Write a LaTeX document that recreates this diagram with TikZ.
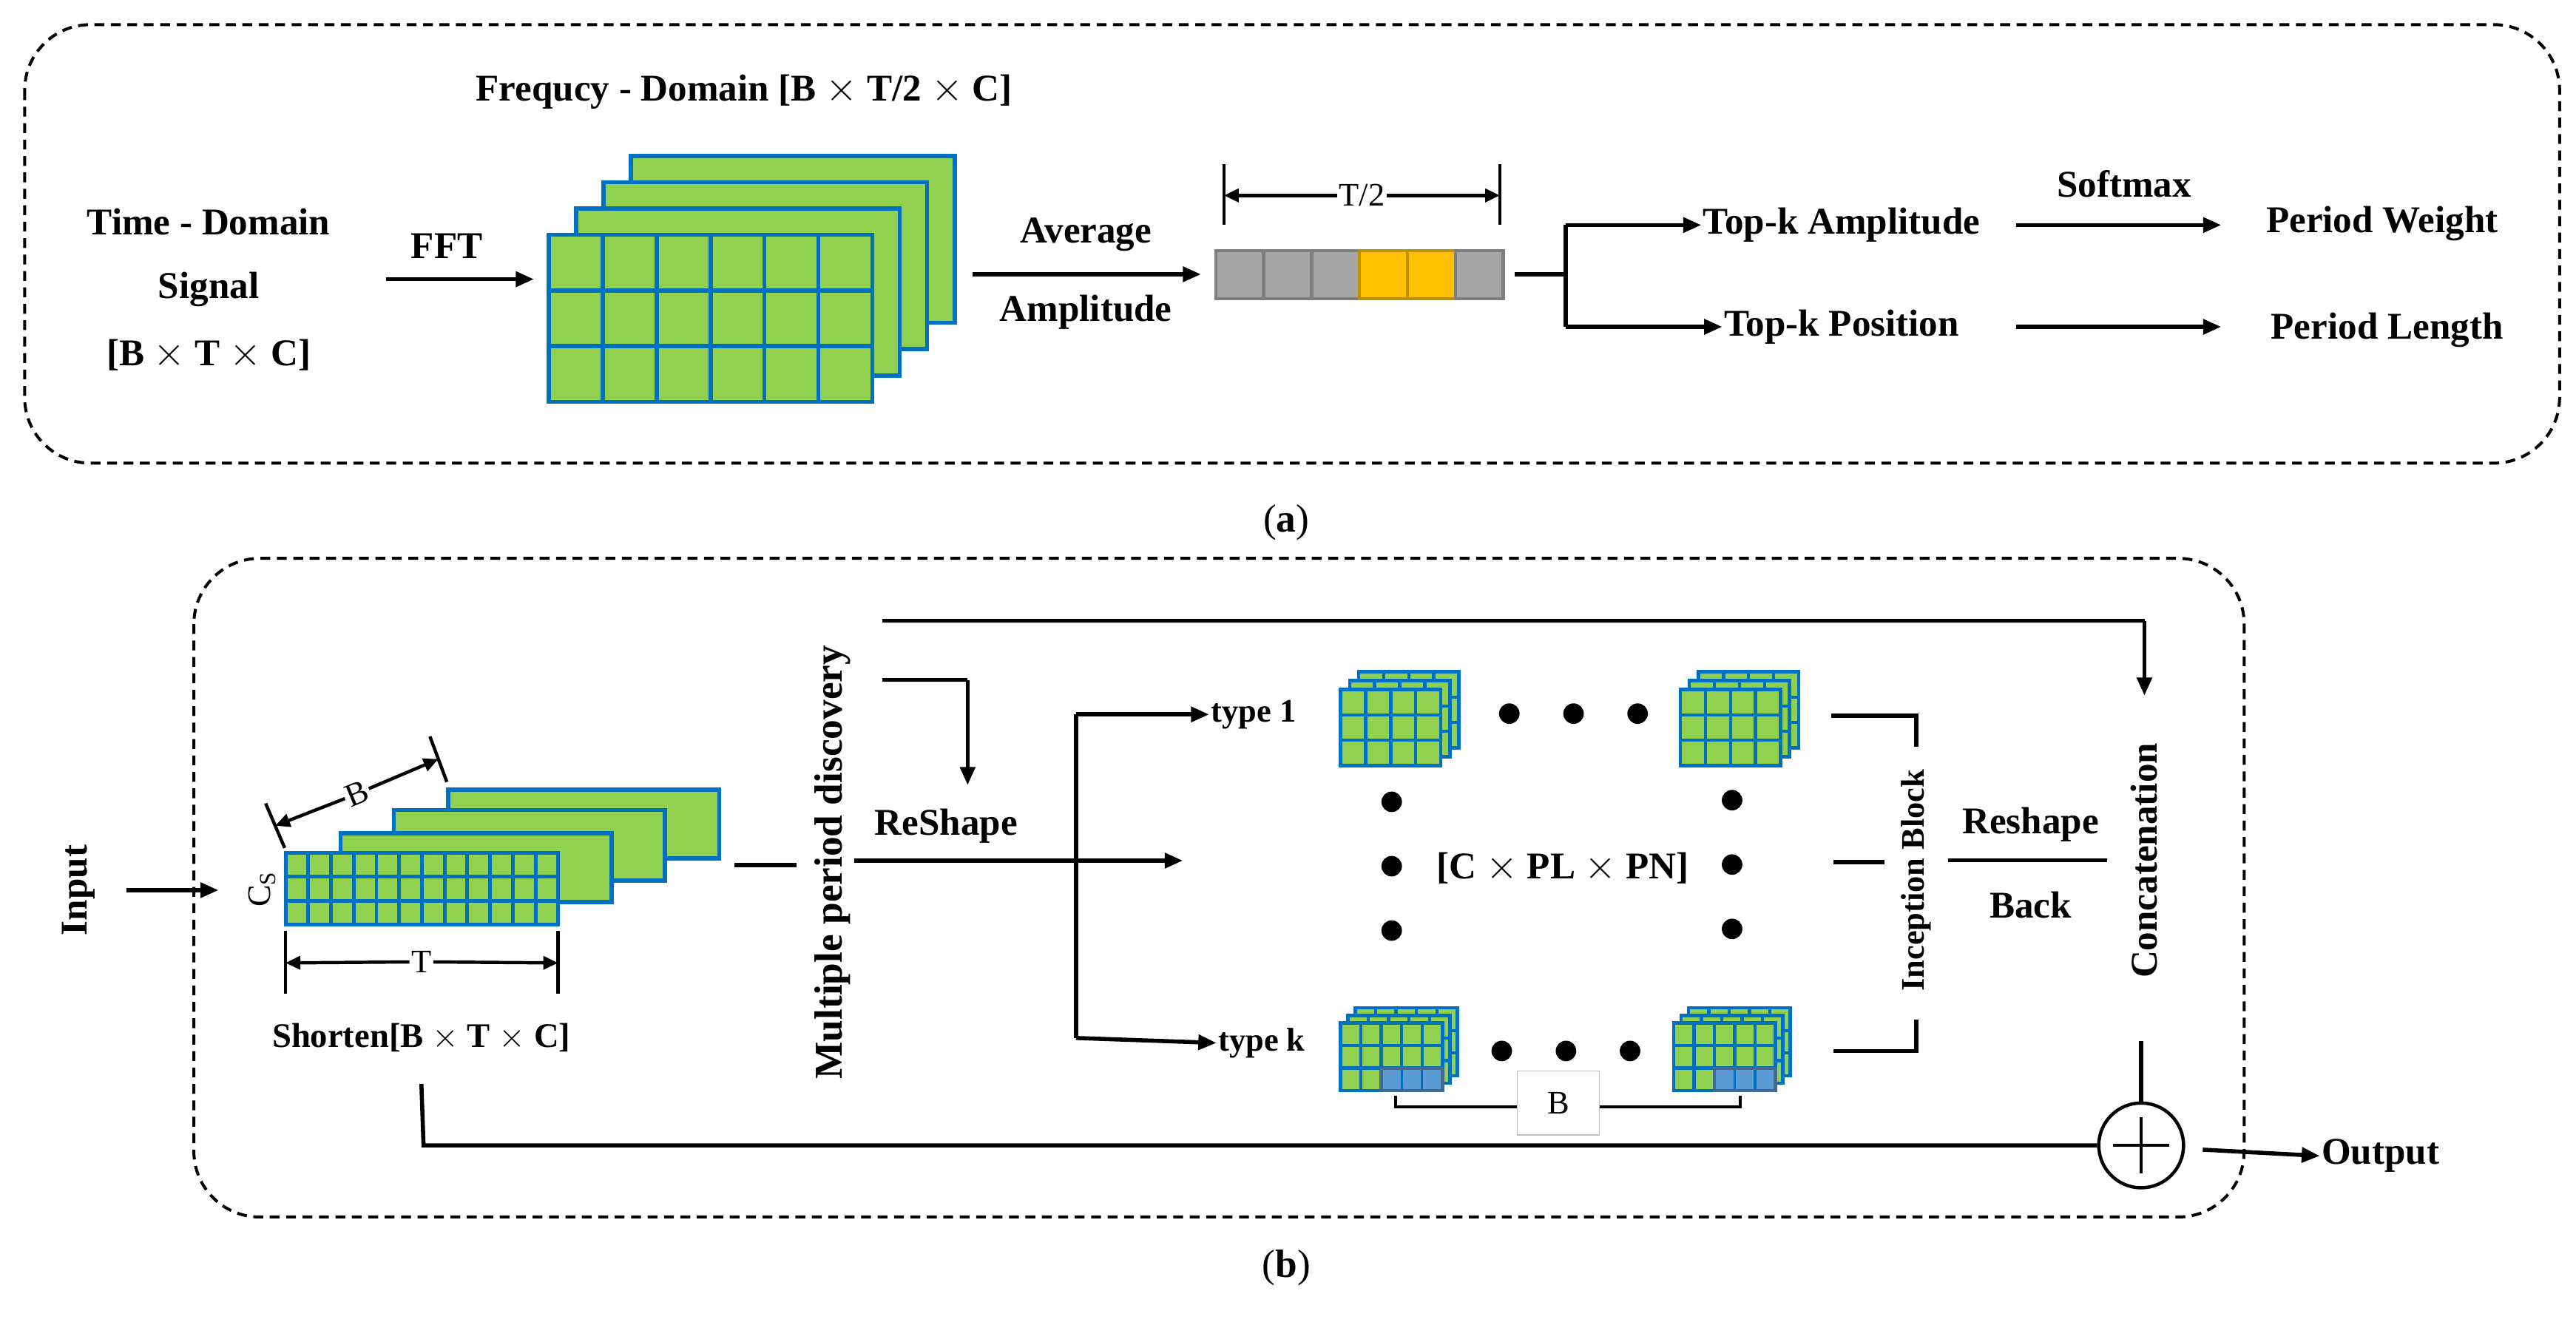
\documentclass[tikz,border=0pt]{standalone}
\usepackage{fontspec}
\setmainfont{Liberation Serif}
\usetikzlibrary{arrows.meta}
\definecolor{gb}{HTML}{0070C0}
\definecolor{gg}{HTML}{92D050}
\definecolor{bb}{HTML}{5B9BD5}
\definecolor{bbd}{HTML}{44698F}
\definecolor{gr}{HTML}{A6A6A6}
\definecolor{grd}{HTML}{7F7F7F}
\definecolor{og}{HTML}{FFC000}
\definecolor{ogd}{HTML}{BF9000}
\newcommand\gridrect[7]{%
  \fill[gg] (#1,#2) rectangle ++(#3,#4);
  \foreach \i in {1,...,#5} {\draw[gb,line width=#7] ({#1+#3*\i/#5},#2) -- ++(0,#4);}
  \foreach \j in {1,...,#6} {\draw[gb,line width=#7] (#1,{#2+#4*\j/#6}) -- ++(#3,0);}
  \draw[gb,line width=#7] (#1,#2) rectangle ++(#3,#4);}
\tikzset{
  frame/.style={draw,line width=1.8pt,dash pattern=on 6pt off 4pt,rounded corners=40pt},
  lbl/.style={font=\fontsize{23}{27}\selectfont\bfseries,inner sep=1pt},
  dim/.style={font=\fontsize{20}{24}\selectfont,inner sep=1pt},
  ar/.style={line width=2.5pt,-{Triangle[length=11pt,width=9pt]}},
  ln/.style={line width=2.5pt},
  dimar/.style={line width=2pt,{Triangle[length=9pt,width=8pt]}-{Triangle[length=9pt,width=8pt]}},
  dot/.style={circle,fill,inner sep=0pt,minimum size=12.5pt}
}
\begin{document}
\begin{tikzpicture}[x=1pt,y=-1pt]
\useasboundingbox (0,0) rectangle (1568,804.5);
% ---------- panel (a)
\draw[frame] (15,15) rectangle (1558,282);
\node[font=\fontsize{24}{28}\selectfont] (capa) at (783,318) {(\textbf{a})};
\node[lbl] (t1) at (127,135) {Time - Domain};
\node[lbl] (t2) at (127,176) {Signal};
\node[lbl] (t3) at (127,216) {[B $\times$ T $\times$ C]};
\coordinate (fftS) at (235,170); \coordinate (fftE) at (325,170);
\draw[ar] (fftS) -- (fftE);
\node[lbl] (fft) at (272,150) {FFT};
\node[lbl] (freq) at (453,56) {Frequcy - Domain [B $\times$ T/2 $\times$ C]};
\foreach \k in {3,2,1} {\gridrect{334+16.7*\k}{143-16*\k}{197}{101.6}{1}{1}{2.5pt}}
\gridrect{334}{143}{197}{101.6}{6}{3}{2.5pt}
\coordinate (avS) at (592,167); \coordinate (avE) at (731,167);
\draw[ar] (avS) -- (avE);
\node[lbl] (avg) at (661,143) {Average};
\node[lbl] (amp) at (661,190) {Amplitude};
% bar
\foreach \i/\c/\d in {0/gr/grd,1/gr/grd,2/gr/grd,3/og/ogd,4/og/ogd,5/gr/grd}
  {\draw[fill=\c,draw=\d,line width=2pt] ({740+29.17*\i},152.5) rectangle ++(29.17,29.5);}
\node (bar) at (827.5,167) {};
\draw[line width=2pt] (745,100) -- (745,137) (913,100) -- (913,137);
\node[dim] (th) at (829,119) {T/2};
\draw[line width=2pt,{Triangle[length=9pt,width=8pt]}-] (745,119) -- (th.west);
\draw[line width=2pt,-{Triangle[length=9pt,width=8pt]}] (th.east) -- (913,119);
\coordinate (fk0) at (922,167); \coordinate (fk) at (953,167);
\coordinate (fkA) at (953,137); \coordinate (fkP) at (953,199);
\node[lbl] (topa) at (1121,137) {Top-k Amplitude};
\node[lbl] (topp) at (1121,199) {Top-k Position};
\draw[ln] (fk0) -- (fk);
\draw[ln] (fkA) -- (fkP);
\draw[ar] (fkA) -- (topa.west);
\draw[ar] (fkP) -- (topp.west);
\node[lbl] (pw) at (1450,136) {Period Weight};
\node[lbl] (pl) at (1453,201) {Period Length};
\node[lbl] (sm) at (1293,112) {Softmax};
\draw[ar] (1227,137) -- (1352,137);
\draw[ar] (1227,199) -- (1352,199);
% ---------- panel (b)
\draw[frame] (118,340) rectangle (1366,741);
\node[font=\fontsize{24}{28}\selectfont] (capb) at (783,772) {(\textbf{b})};
\node[lbl,rotate=90] (inp) at (48,542) {Input};
\draw[ar] (77,542) -- (133,542);
\gridrect{272.8}{480.7}{165}{42}{1}{1}{2.5pt}
\gridrect{239.7}{493.2}{165}{43}{1}{1}{2.5pt}
\gridrect{207.4}{507.3}{165}{42}{1}{1}{2.5pt}
\gridrect{173.8}{519.3}{166}{43.7}{12}{3}{2.2pt}
\node[dim,rotate=90] (cs) at (159.6,541.5) {C$_\mathrm{S}$};
\draw[line width=2pt] (161.7,489.2) -- (173.3,516.3) (261.7,448.4) -- (272,476.1);
\node[dim,rotate=22.6] (bd) at (217.2,483.2) {B};
\draw[line width=2pt,{Triangle[length=9pt,width=8pt]}-] (167.5,502.8) -- (bd.west);
\draw[line width=2pt,-{Triangle[length=9pt,width=8pt]}] (bd.east) -- (266.8,462.2);
\draw[line width=2pt] (173.8,567) -- (173.8,605) (339.7,567) -- (339.7,605);
\node[dim] (td) at (256.5,585.7) {T};
\draw[line width=2pt,{Triangle[length=9pt,width=8pt]}-] (173.8,586.3) -- (td.west);
\draw[line width=2pt,-{Triangle[length=9pt,width=8pt]}] (td.east) -- (339.7,586.3);
\node[lbl,font=\fontsize{21}{25}\selectfont\bfseries] (sh) at (256.5,632) {Shorten[B $\times$ T $\times$ C]};
\node[lbl,rotate=90,font=\fontsize{24}{28}\selectfont\bfseries] (mpd) at (507,525) {Multiple period discovery};
\draw[ln] (447,526.8) -- (485,526.8);
\node[lbl] (rs) at (576,503) {ReShape};
\coordinate (br) at (655,524);
\draw[ln] (520,524) -- (br);
\draw[ln] (655,435) -- (655,632);
\node[lbl,font=\fontsize{20}{24}\selectfont\bfseries] (ty1) at (763,435) {type 1};
\node[lbl,font=\fontsize{20}{24}\selectfont\bfseries] (tyk) at (768,635) {type k};
\draw[ar] (655,435) -- (ty1.west);
\draw[ar] (br) -- (720,524);
\draw[ar] (655,632) -- (tyk.west);
\coordinate (c1) at (537,378); \coordinate (c2) at (1305.3,378);
\draw[ln] (c1) -- (c2);
\draw[ar] (c2) -- (1305.3,423.5);
\draw[ln] (537,414) -- (589,414);
\draw[ar] (589,414) -- (589,478);
% small stacks
\foreach \xx in {816,1022.8} {
  \foreach \k in {2,1} {\gridrect{\xx+5.5*\k}{419.8-5.4*\k}{61}{46.3}{4}{3}{2pt}}
  \gridrect{\xx}{419.8}{61}{46.3}{4}{3}{2pt}}
\foreach \xx in {816,1018.7} {
  \foreach \k in {2,1} {\gridrect{\xx+4.5*\k}{622.9-4.6*\k}{62}{41.2}{5}{3}{2pt}}
  \gridrect{\xx}{622.9}{62}{41.2}{5}{3}{2pt}
  \foreach \i in {2,3,4} {\fill[bb] ({\xx+12.4*\i},{622.9+27.5}) rectangle ++(12.4,13.7);
     \draw[gb,line width=1.5pt] ({\xx+12.4*\i},{622.9+27.5}) rectangle ++(12.4,13.7);}
  \draw[bbd,line width=2pt] ({\xx+24.8},650.4) rectangle ++(37.2,13.7);}
\foreach \x in {918.7,957.8,996.8} {\node[dot] at (\x,434.5) {};}
\foreach \x in {914.1,953.2,992.2} {\node[dot] at (\x,639.9) {};}
\foreach \y in {488.2,527.4,566.6} {\node[dot] at (847.1,\y) {}; \node[dot] at (1054.3,\y-1) {};}
\node[lbl] (cpl) at (951.3,528.4) {[C $\times$ PL $\times$ PN]};
\node[draw=gray!50,line width=0.6pt,minimum width=50pt,minimum height=39pt,dim] (bbox) at (948.6,671.5) {B};
\draw[line width=1.8pt] (bbox.west|-0,673.7) -- (849.4,673.7) -- (849.4,667);
\draw[line width=1.8pt] (bbox.east|-0,673.7) -- (1059.3,673.7) -- (1059.3,667);
% inception
\draw[ln] (1114.6,435.9) -- (1166.3,435.9) -- (1166.3,454.5);
\draw[ln] (1116,640) -- (1166.3,640) -- (1166.3,621);
\draw[ln] (1116,525) -- (1147,525);
\node[lbl,rotate=90,font=\fontsize{20}{24}\selectfont\bfseries] (inc) at (1166.3,536) {Inception Block};
\draw[ln] (1185.7,523.7) -- (1282.6,523.7);
\node[lbl] (rsb) at (1236,502) {Reshape};
\node[lbl] (bk) at (1236,551) {Back};
\node[lbl,rotate=90] (cc) at (1305.3,524) {Concatenation};
\node[circle,draw,line width=2pt,minimum size=51.6pt,inner sep=0pt] (plus) at (1303.3,697.4) {};
\draw[line width=1.5pt] (plus.center) ++(-17,0) -- ++(34,0) (plus.center) ++(0,-17) -- ++(0,34);
\draw[ln] (1303.3,634) -- (plus.north);
\draw[ln] (sh.south|-0,660) -- (257.8,697.4) -- (plus.west);
\node[lbl] (out) at (1449,703.8) {Output};
\draw[ar] (1340.8,700) -- (out.west);
\end{tikzpicture}
\end{document}
